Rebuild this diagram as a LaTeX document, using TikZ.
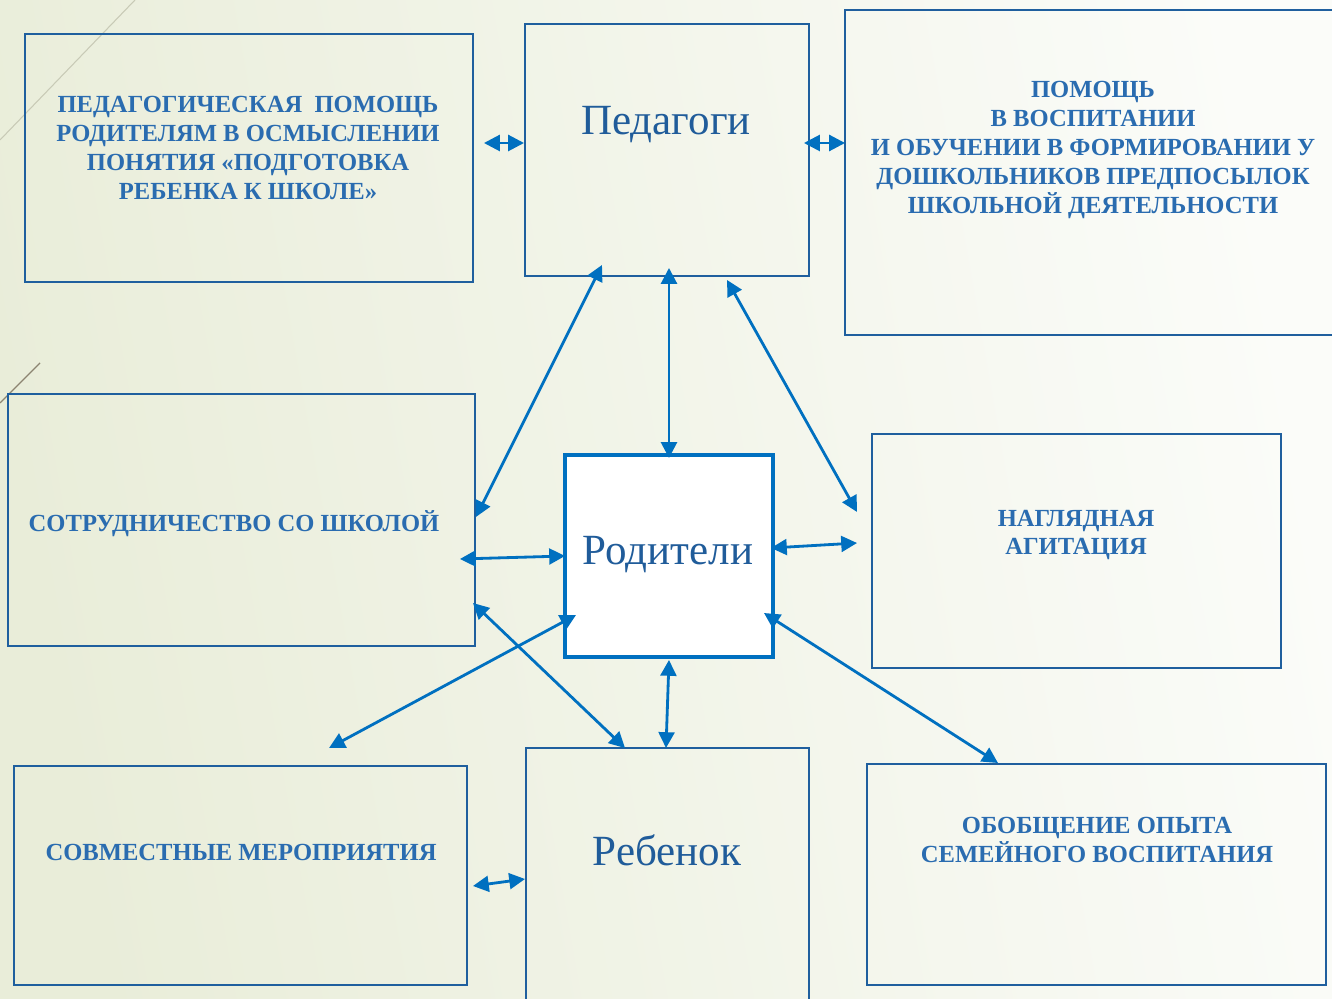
\documentclass[tikz,border=0pt]{standalone}
\usepackage{fontspec}
\setmainfont{Liberation Serif}
\usetikzlibrary{arrows.meta,calc}
\definecolor{boxblue}{HTML}{1F5F9E}
\definecolor{arrblue}{HTML}{0070C0}
\definecolor{txtblue}{HTML}{2A6CB0}
\definecolor{bigblue}{HTML}{205C9A}
\definecolor{bgleft}{HTML}{E9EDD9}
\definecolor{bgright}{HTML}{FBFCF9}
\definecolor{thinline}{HTML}{C8CAB6}
\definecolor{darkline}{HTML}{8C8471}

\begin{document}
\begin{tikzpicture}[x=0.02cm, y=-0.02cm, line width=1.6pt,
    box/.style={draw=boxblue, line width=1.6pt, rectangle, outer sep=0pt, inner sep=0pt},
    caps/.style={text=txtblue, font=\bfseries\fontsize{14}{16.4}\selectfont, align=center, inner sep=0pt},
    big/.style={text=bigblue, font=\fontsize{24.5}{28}\selectfont, inner sep=0pt},
    link/.style={draw=arrblue, {Triangle[length=9pt,width=9pt]}-{Triangle[length=9pt,width=9pt]}}]
      \useasboundingbox (0,0) rectangle (1332,999);
      \clip (0,0) rectangle (1332,999);
      \shade[left color=bgleft, right color=bgright, shading angle=100] (0,0) rectangle (1332,999);
      \draw[line width=0.6pt, thinline] (0,140) -- (135,0);
      \draw[line width=0.8pt, darkline] (0,403) -- (40,363);

      \node[box, minimum width=8.96cm, minimum height=4.96cm] (PedHelp) at (249,158) {};
      \node[box, minimum width=5.68cm, minimum height=5.04cm] (Teachers) at (667,150) {};
      \node[box, minimum width=10cm, minimum height=6.5cm] (Help) at (1095,172.5) {};
      \node[box, minimum width=9.34cm, minimum height=5.04cm] (School) at (241.5,520) {};
      \node[box, draw=arrblue, line width=1.8pt, fill=white, minimum width=4.16cm, minimum height=4.04cm] (Parents) at (669,556) {};
      \node[box, minimum width=8.18cm, minimum height=4.68cm] (Visual) at (1076.5,551) {};
      \node[box, minimum width=9.06cm, minimum height=4.38cm] (Joint) at (240.5,875.5) {};
      \node[box, minimum width=5.66cm, minimum height=5.24cm] (Child) at (667.5,879) {};
      \node[box, minimum width=9.18cm, minimum height=4.42cm] (Summary) at (1096.5,874.5) {};

      \node[caps] (PedHelpText) at (248,148) {ПЕДАГОГИЧЕСКАЯ~~ПОМОЩЬ\\РОДИТЕЛЯМ В ОСМЫСЛЕНИИ\\ПОНЯТИЯ «ПОДГОТОВКА\\РЕБЕНКА К ШКОЛЕ»};
      \node[big] (TeachersText) at (666,125) {Педагоги};
      \node[caps] (HelpText) at (1093,150) {ПОМОЩЬ\\В ВОСПИТАНИИ\\И ОБУЧЕНИИ В ФОРМИРОВАНИИ У\\ДОШКОЛЬНИКОВ ПРЕДПОСЫЛОК\\ШКОЛЬНОЙ ДЕЯТЕЛЬНОСТИ};
      \node[caps] (SchoolText) at (234,524) {СОТРУДНИЧЕСТВО СО ШКОЛОЙ};
      \node[big] (ParentsText) at (668,555) {Родители};
      \node[caps] (VisualText) at (1076,535) {НАГЛЯДНАЯ\\АГИТАЦИЯ};
      \node[caps] (JointText) at (241,852) {СОВМЕСТНЫЕ МЕРОПРИЯТИЯ};
      \node[big] (ChildText) at (667,850) {Ребенок};
      \node[caps] (SummaryText) at (1097,840) {ОБОБЩЕНИЕ ОПЫТА\\СЕМЕЙНОГО ВОСПИТАНИЯ};

      \draw[link] ($(PedHelp.east)+(11,-15)$) -- ($(Teachers.west)+(-1,-7)$);
      \draw[link] ($(Teachers.east)+(-5,-7)$) -- ($(Help.west)+(0,-29.5)$);
      \draw[link] ($(Teachers.south)+(-65,-11)$) -- ($(School.east)+(1,-3)$);
      \draw[link] ($(Teachers.south)+(2,-8)$) -- ($(Parents.north)+(0,3)$);
      \draw[link] ($(Teachers.south)+(60,4)$) -- ($(Visual.west)+(-15,-39)$);
      \draw[link] ($(School.east)+(-15,39)$) -- (Parents.west);
      \draw[link] ($(Parents.east)+(-2,-8)$) -- ($(Visual.west)+(-15,-8)$);
      \draw[link] ($(Parents.west)+(11,59)$) -- ($(Joint.north)+(88.5,-18)$);
      \draw[link] ($(School.east)+(-2,83)$) -- ($(Child.north)+(-42.5,0)$);
      \draw[link] ($(Parents.south)+(0,3)$) -- ($(Child.north)+(-1.5,0)$);
      \draw[link] ($(Parents.east)+(-9,57)$) -- ($(Summary.north)+(-98.5,-1)$);
      \draw[link] ($(Joint.east)+(6,10.5)$) -- ($(Child.west)+(-1,0)$);
    \end{tikzpicture}
\end{document}
